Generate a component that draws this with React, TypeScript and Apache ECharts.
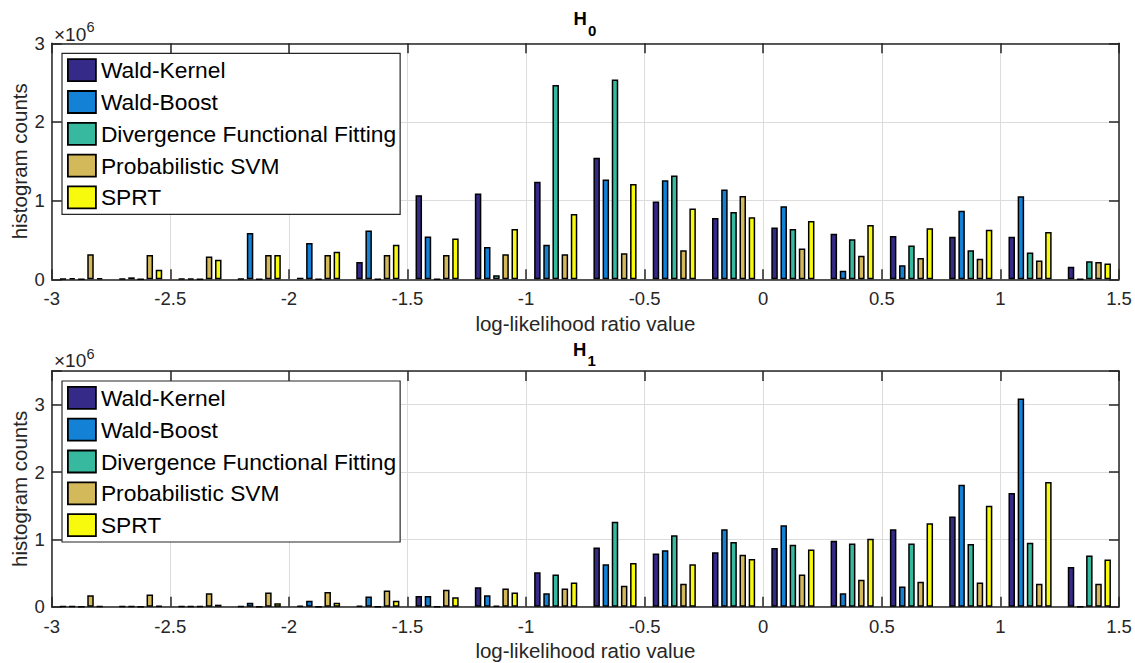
import React, { useEffect, useRef } from 'react';
import * as echarts from 'echarts';

const seriesNames = ['Wald-Kernel', 'Wald-Boost', 'Divergence Functional Fitting', 'Probabilistic SVM', 'SPRT'];
const seriesColors = ['#352A87', '#1281D6', '#36B99F', '#D4B95A', '#F8FA0D'];

// histogram bin centres (log-likelihood ratio value)
const binCenters = [-2.875, -2.625, -2.375, -2.125, -1.875, -1.625, -1.375, -1.125, -0.875, -0.625, -0.375, -0.125, 0.125, 0.375, 0.625, 0.875, 1.125, 1.375];

// counts, in units of 10^6 — H0
const h0WaldKernel = [0.005, 0.005, 0.005, 0.005, 0.02, 0.22, 1.07, 1.09, 1.24, 1.545, 0.99, 0.78, 0.66, 0.58, 0.55, 0.54, 0.54, 0.16];
const h0WaldBoost = [0.015, 0.025, 0.01, 0.59, 0.46, 0.62, 0.545, 0.41, 0.44, 1.27, 1.26, 1.14, 0.93, 0.11, 0.18, 0.87, 1.055, 0];
const h0Divergence = [0, 0, 0, 0, 0, 0, 0, 0.05, 2.47, 2.54, 1.32, 0.855, 0.64, 0.51, 0.43, 0.37, 0.34, 0.23];
const h0ProbSVM = [0.32, 0.31, 0.29, 0.31, 0.31, 0.31, 0.31, 0.32, 0.32, 0.33, 0.37, 1.06, 0.39, 0.30, 0.27, 0.26, 0.24, 0.22];
const h0SPRT = [0.015, 0.12, 0.25, 0.31, 0.35, 0.44, 0.52, 0.64, 0.83, 1.21, 0.90, 0.79, 0.74, 0.69, 0.65, 0.63, 0.60, 0.20];

// counts, in units of 10^6 — H1
const h1WaldKernel = [0.005, 0.005, 0.005, 0.005, 0.01, 0.01, 0.16, 0.29, 0.51, 0.88, 0.79, 0.81, 0.87, 0.98, 1.15, 1.34, 1.69, 0.59];
const h1WaldBoost = [0.005, 0.005, 0.005, 0.06, 0.09, 0.15, 0.16, 0.17, 0.20, 0.63, 0.84, 1.15, 1.21, 0.20, 0.30, 1.81, 3.09, 0];
const h1Divergence = [0, 0, 0.005, 0, 0, 0, 0, 0.01, 0.48, 1.26, 1.06, 0.96, 0.92, 0.94, 0.94, 0.93, 0.95, 0.76];
const h1ProbSVM = [0.17, 0.18, 0.20, 0.21, 0.22, 0.24, 0.25, 0.27, 0.27, 0.31, 0.34, 0.77, 0.48, 0.40, 0.37, 0.36, 0.34, 0.34];
const h1SPRT = [0.005, 0.01, 0.03, 0.05, 0.06, 0.09, 0.14, 0.21, 0.36, 0.65, 0.63, 0.71, 0.85, 1.01, 1.24, 1.50, 1.85, 0.70];

const h0Data = [h0WaldKernel, h0WaldBoost, h0Divergence, h0ProbSVM, h0SPRT];
const h1Data = [h1WaldKernel, h1WaldBoost, h1Divergence, h1ProbSVM, h1SPRT];

const xTitle = 'log-likelihood ratio value';
const yTitle = 'histogram counts';

const FONT = "'Liberation Sans', Arial, Helvetica, sans-serif";
const TXT = '#262626';

export default function App() {
  const ref = useRef<HTMLDivElement>(null);
  useEffect(() => {
    if (!ref.current) return;
    const chart = echarts.init(ref.current, undefined, { renderer: 'svg' });

    const gridTops = [43.3, 371];
    const gridHeights = [236, 235.7];
    const yMax = [3, 3.5];

    const grids = gridTops.map((t, i) => ({
      left: 51.7,
      right: 16,
      top: t,
      height: gridHeights[i],
      containLabel: false,
      outerBoundsMode: 'none',
    }));

    const xAxes: any[] = [];
    const yAxes: any[] = [];
    [0, 1].forEach((g) => {
      xAxes.push({
        gridIndex: g,
        type: 'value',
        position: 'bottom',
        min: -3,
        max: 1.5,
        interval: 0.5,
        name: xTitle,
        nameLocation: 'middle',
        nameGap: 33,
        nameMoveOverlap: false,
        nameTextStyle: { fontFamily: FONT, fontSize: 20.5, color: TXT, lineHeight: 22 },
        axisLine: { show: true, onZero: false, lineStyle: { color: TXT, width: 1.5 } },
        axisTick: { show: true, inside: true, length: 10, lineStyle: { color: TXT, width: 1.5 } },
        axisLabel: { fontFamily: FONT, fontSize: 18.5, color: TXT, margin: 10 },
        splitLine: { show: true, lineStyle: { color: '#DCDCDC', width: 1 } },
      });
      xAxes.push({
        gridIndex: g,
        type: 'value',
        position: 'top',
        min: -3,
        max: 1.5,
        interval: 0.5,
        axisLine: { show: true, onZero: false, lineStyle: { color: TXT, width: 1.5 } },
        axisTick: { show: true, inside: true, length: 10, lineStyle: { color: TXT, width: 1.5 } },
        axisLabel: { show: false },
        splitLine: { show: false },
      });
      yAxes.push({
        gridIndex: g,
        type: 'value',
        position: 'left',
        min: 0,
        max: yMax[g],
        interval: 1,
        name: yTitle,
        nameLocation: 'middle',
        nameRotate: 90,
        nameGap: 22,
        nameMoveOverlap: false,
        nameTextStyle: { fontFamily: FONT, fontSize: 20.5, color: TXT },
        axisLine: { show: true, onZero: false, lineStyle: { color: TXT, width: 1.5 } },
        axisTick: { show: true, inside: true, length: 10, lineStyle: { color: TXT, width: 1.5 } },
        axisLabel: {
          fontFamily: FONT, fontSize: 18.5, color: TXT, margin: 7,
          formatter: (v: number) => (Number.isInteger(v) ? String(v) : ''),
        },
        splitLine: { show: true, lineStyle: { color: '#DCDCDC', width: 1 } },
      });
      yAxes.push({
        gridIndex: g,
        type: 'value',
        position: 'right',
        min: 0,
        max: yMax[g],
        interval: 1,
        axisLine: { show: true, onZero: false, lineStyle: { color: TXT, width: 1.5 } },
        axisTick: { show: true, inside: true, length: 10, lineStyle: { color: TXT, width: 1.5 } },
        axisLabel: { show: false },
        splitLine: { show: false },
      });
    });

    const series: any[] = [];
    [h0Data, h1Data].forEach((dataSet, g) => {
      dataSet.forEach((vals, s) => {
        series.push({
          type: 'bar',
          name: seriesNames[s],
          xAxisIndex: g * 2,
          yAxisIndex: g * 2,
          barWidth: 6.5,
          barGap: '41%',
          itemStyle: { color: seriesColors[s], borderColor: '#000', borderWidth: 1.5 },
          data: binCenters.map((c, i) => [c, vals[i]]),
        });
      });
    });

    const legends = gridTops.map((t) => ({
      orient: 'vertical',
      left: 62,
      top: t + 10,
      padding: [5, 4, 5, 5],
      itemWidth: 28,
      itemHeight: 22,
      itemGap: 8,
      icon: 'rect',
      backgroundColor: '#fff',
      borderColor: TXT,
      borderWidth: 1.2,
      selectedMode: false,
      itemStyle: { borderColor: '#000', borderWidth: 1.8 },
      textStyle: { fontFamily: FONT, fontSize: 22.8, color: '#000', lineHeight: 22 },
      data: seriesNames,
    }));

    const titleText = (x: number, y: number, main: string, sub: string) => [
      { type: 'text', x, y, style: { text: main, fontFamily: FONT, fontSize: 18.5, fontWeight: 'bold', fill: '#000', align: 'left', verticalAlign: 'middle' } },
      { type: 'text', x: x + 14.5, y: y + 11.5, style: { text: sub, fontFamily: FONT, fontSize: 15, fontWeight: 'bold', fill: '#000', align: 'left', verticalAlign: 'middle' } },
    ];
    const expText = (x: number, y: number) => [
      { type: 'text', x, y, style: { text: '×10', fontFamily: FONT, fontSize: 19, fill: TXT, align: 'left', verticalAlign: 'middle' } },
      { type: 'text', x: x + 32.5, y: y - 7, style: { text: '6', fontFamily: FONT, fontSize: 14.5, fill: TXT, align: 'left', verticalAlign: 'middle' } },
    ];

    chart.setOption({
      animation: false,
      backgroundColor: '#fff',
      textStyle: { fontFamily: FONT },
      grid: grids,
      xAxis: xAxes,
      yAxis: yAxes,
      legend: legends,
      series,
      graphic: [
        ...titleText(573.5, 18.5, 'H', '0'),
        ...titleText(573, 349, 'H', '1'),
        ...expText(54, 34),
        ...expText(54, 360.5),
      ],
    });
    return () => chart.dispose();
  }, []);
  return <div ref={ref} style={{ position: 'absolute', left: 0, top: 0, width: 1135, height: 663 }} />;
}
